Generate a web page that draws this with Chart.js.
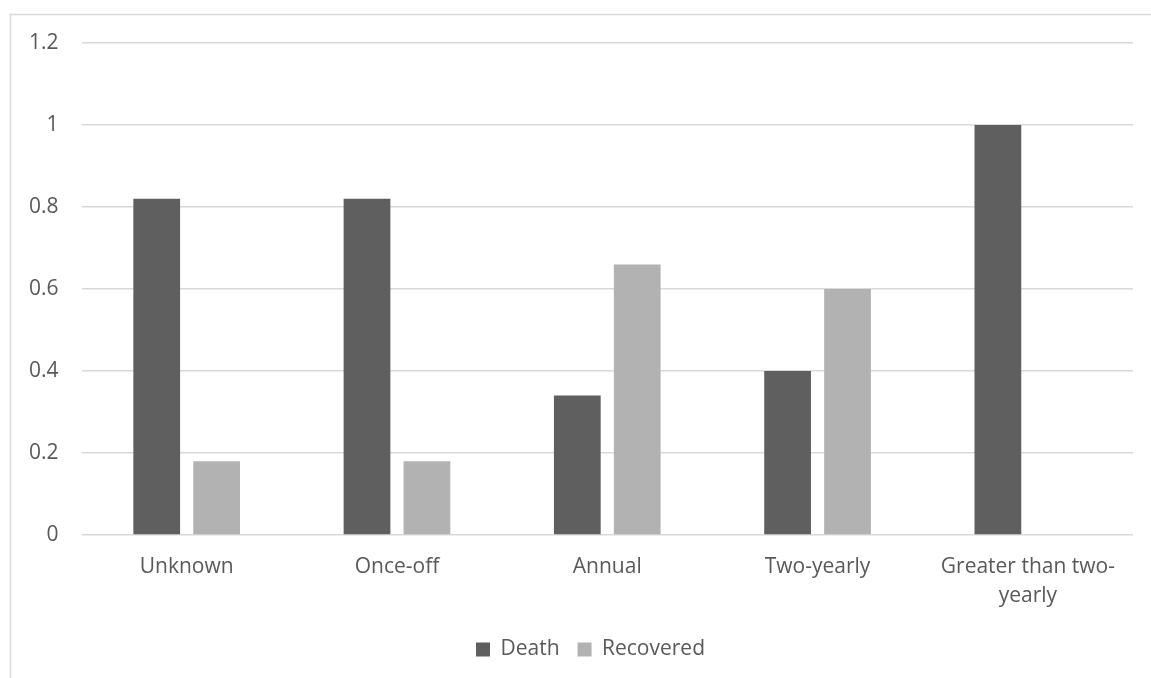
<!DOCTYPE html>
<html>
<head>
<meta charset="utf-8">
<script src="https://cdn.jsdelivr.net/npm/chart.js@4.4.1/dist/chart.umd.min.js"></script>
<style>
  html, body { margin: 0; padding: 0; background: #ffffff; }
  #wrap { width: 1151px; height: 678px; position: relative; }
</style>
</head>
<body>
<div id="wrap"><canvas id="chart" width="1151" height="678"></canvas></div>
<script>
// Outcome share by testing frequency
const categories = ['Unknown', 'Once-off', 'Annual', 'Two-yearly', ['Greater than two-', 'yearly']];
const deathValues = [0.82, 0.82, 0.34, 0.40, 1.00];
const recoveredValues = [0.18, 0.18, 0.66, 0.60, 0];
const yTickValues = [0, 0.2, 0.4, 0.6, 0.8, 1, 1.2];
const seriesNames = ['Death', 'Recovered'];

const TEXT = '#595959';
const GRID = '#d9d9d9';
const FONT = "'Open Sans', 'Noto Sans', sans-serif";

// Light frame around the chart, plus a small nudge so the legend sits
// centred on the full frame width rather than on the canvas.
const framePlugin = {
  id: 'frame',
  afterLayout(chart) {
    const lg = chart.legend;
    if (lg) { lg.left += 21; lg.right += 21; }
  },
  beforeDraw(chart) {
    const ctx = chart.ctx;
    ctx.save();
    ctx.fillStyle = '#ffffff';
    ctx.fillRect(0, 0, chart.width, chart.height);
    ctx.strokeStyle = GRID;
    ctx.lineWidth = 1.5;
    ctx.strokeRect(10.5, 14.5, chart.width + 40, chart.height + 40);
    ctx.restore();
  }
};

new Chart(document.getElementById('chart'), {
  type: 'bar',
  data: {
    labels: categories,
    datasets: [
      {
        label: seriesNames[0],
        data: deathValues,
        backgroundColor: '#5f5f5f',
        categoryPercentage: 0.57,
        barPercentage: 0.78
      },
      {
        label: seriesNames[1],
        data: recoveredValues,
        backgroundColor: '#b2b2b2',
        categoryPercentage: 0.57,
        barPercentage: 0.78
      }
    ]
  },
  plugins: [framePlugin],
  options: {
    responsive: false,
    animation: false,
    devicePixelRatio: 1,
    layout: { padding: { left: 6, right: 18, top: 43, bottom: 8 } },
    plugins: {
      tooltip: { enabled: false },
      legend: {
        position: 'bottom',
        labels: {
          boxWidth: 14,
          boxHeight: 14,
          padding: 18,
          color: TEXT,
          font: { family: FONT, size: 21 }
        }
      }
    },
    scales: {
      x: {
        grid: { display: false },
        border: { display: false },
        ticks: {
          color: TEXT,
          padding: 9,
          maxRotation: 0,
          autoSkip: false,
          font: { family: FONT, size: 21, lineHeight: 1.4 }
        },
        afterFit(scale) { scale.height = 86; }
      },
      y: {
        min: 0,
        max: 1.2,
        afterBuildTicks(scale) { scale.ticks = yTickValues.map(v => ({ value: v })); },
        grid: { color: GRID, lineWidth: 1.5, drawTicks: false },
        border: { display: false },
        ticks: {
          color: TEXT,
          padding: 23,
          font: { family: FONT, size: 21 },
          callback: v => String(Number(v.toFixed(1)))
        }
      }
    }
  }
});
</script>
</body>
</html>
